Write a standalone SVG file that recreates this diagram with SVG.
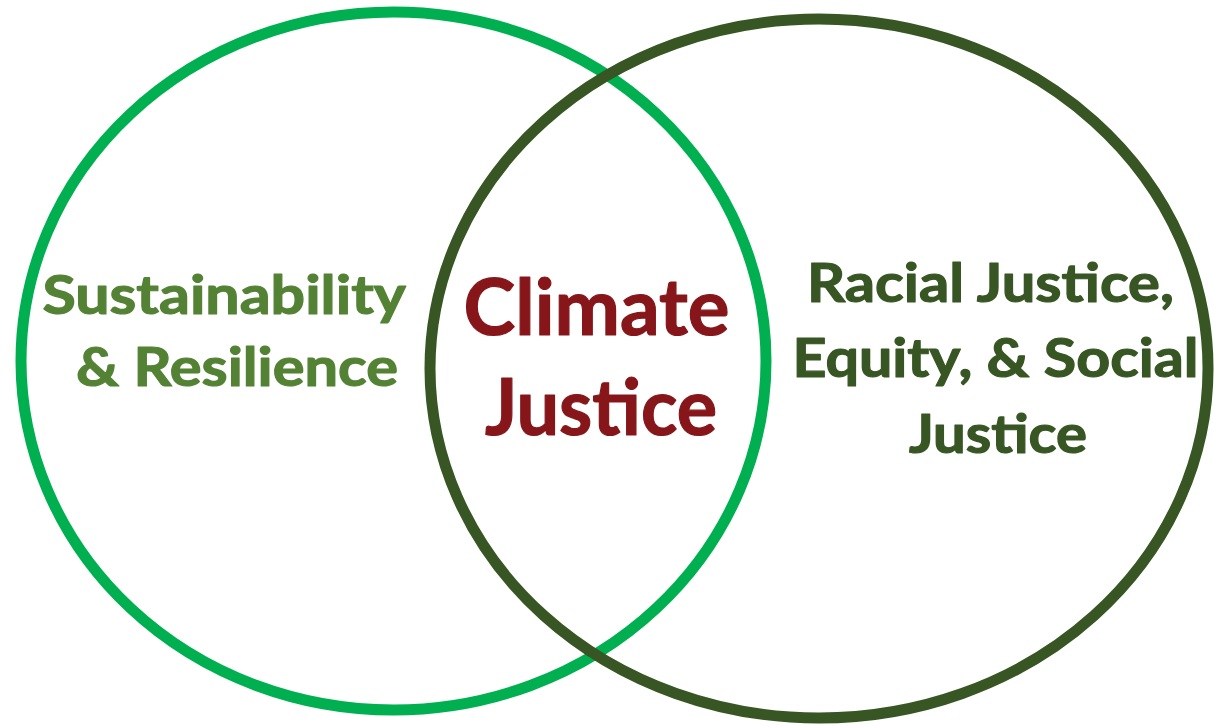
<svg xmlns="http://www.w3.org/2000/svg" width="1214" height="726" viewBox="0 0 1214 726">
  <style>
    .ring { fill: none; stroke-width: 11; }
    .lbl { font-family: Lato, "Liberation Sans", sans-serif; font-weight: bold; text-anchor: middle; stroke-width: 1.2px; stroke-linejoin: round; }
    .left { fill: #548235; stroke: #548235; font-size: 54px; }
    .mid { fill: #861619; stroke: #861619; font-size: 78px; }
    .right { fill: #375623; stroke: #375623; font-size: 54px; }
  </style>
  <rect width="1214" height="726" fill="#ffffff"/>
  <g id="sustainability">
    <ellipse class="ring" cx="393.5" cy="361" rx="372.5" ry="349" stroke="#00B050"/>
    <text class="lbl left">
      <tspan x="230" y="314" textLength="362" lengthAdjust="spacingAndGlyphs">Sustainability</tspan>
      <tspan x="237" y="386" textLength="322" lengthAdjust="spacingAndGlyphs">&amp; Resilience</tspan>
    </text>
  </g>
  <g id="racial-justice">
    <ellipse class="ring" cx="819" cy="368.5" rx="389" ry="349.5" stroke="#375623"/>
    <text class="lbl right">
      <tspan x="997" y="302" textLength="367" lengthAdjust="spacingAndGlyphs">Racial Justice,</tspan>
      <tspan x="1002" y="377" textLength="406" lengthAdjust="spacingAndGlyphs">Equity, &amp; Social</tspan>
      <tspan x="998" y="453" textLength="178" lengthAdjust="spacingAndGlyphs">Justice</tspan>
    </text>
  </g>
  <g id="climate-justice">
    <text class="lbl mid">
      <tspan x="606" y="335" textLength="266" lengthAdjust="spacingAndGlyphs">Climate</tspan>
      <tspan x="601" y="435" textLength="232" lengthAdjust="spacingAndGlyphs">Justice</tspan>
    </text>
  </g>
  <g id="connectors"/>
</svg>
